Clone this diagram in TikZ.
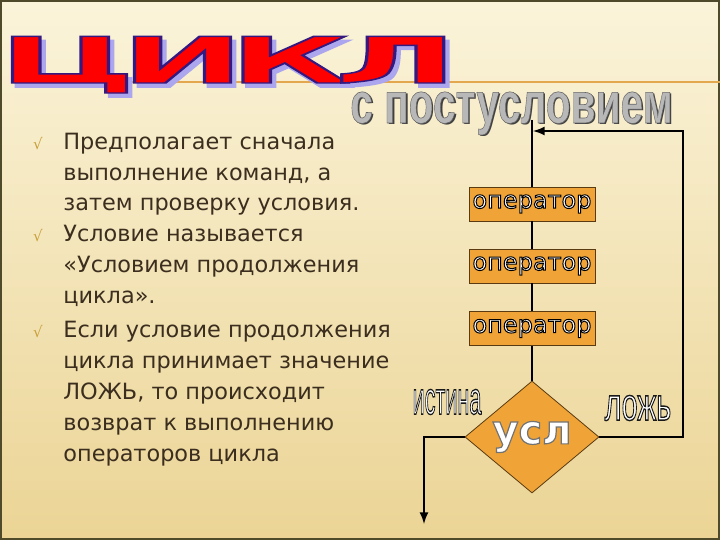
\documentclass[tikz,border=0pt]{standalone}
\usepackage{fontspec}
\setmainfont{DejaVu Sans}
\newfontfamily\narrowfont{Liberation Sans}
\newfontfamily\titlefont[LetterSpace=-10]{DejaVu Sans Bold}
\usetikzlibrary{shapes.geometric}

\definecolor{bgtop}{HTML}{FBF4DA}
\definecolor{bgbot}{HTML}{EBD495}
\definecolor{frame}{HTML}{4F4A2A}
\definecolor{rule}{HTML}{E3A84E}
\definecolor{boxorange}{HTML}{F0A437}
\definecolor{boxedge}{HTML}{5A3A10}
\definecolor{titleshadow}{HTML}{ABA6EE}
\definecolor{bodytext}{HTML}{3B2E1E}
\definecolor{mark}{HTML}{C9A13B}

\tikzset{
  flow/.style={line width=1pt},
  opbox/.style={draw=boxedge, fill=boxorange, line width=0.4pt,
    minimum width=63pt, minimum height=17pt, inner sep=0pt},
  cond/.style={diamond, aspect=1.2, draw=boxedge, fill=boxorange, line width=0.4pt,
    minimum width=67pt, minimum height=56pt, inner sep=0pt},
  body/.style={font=\fontsize{11.2}{12}\selectfont, text=bodytext, inner sep=0pt},
  bullet/.style={font=\fontsize{7.5}{9}\selectfont, text=mark, inner sep=0pt},
  answer/.style={font=\narrowfont\fontsize{23}{24}\selectfont, inner sep=0pt},
}
% filled text with a stroked edge: #1 edge width, #2 edge colour (rgb), #3 fill colour, #4 text
\newcommand{\edged}[4]{\textcolor{#3}{\special{pdf:literal direct q 2 Tr #1 w #2 RG}#4\special{pdf:literal direct Q}}}

\begin{document}
\begin{tikzpicture}[x=0.5pt,y=-0.5pt]
  \useasboundingbox (0,0) rectangle (720,540);
  % background and frame
  \shade[top color=bgtop, bottom color=bgbot] (0,0) rectangle (720,540);
  \draw[frame, line width=1pt] (1,1) rectangle (719,539);
  \draw[rule, line width=0.6pt] (118,82) -- (720,82);

  % title
  \node[inner sep=0pt, anchor=base] (titleshade) at (232,87)
    {\titlefont\fontsize{32}{33}\selectfont\scalebox{2.3}[1]{\edged{0.8}{0.67 0.65 0.93}{titleshadow}{ЦИКЛ}}};
  \node[inner sep=0pt, anchor=base] (title) at (228,83)
    {\titlefont\fontsize{32}{33}\selectfont\scalebox{2.3}[1]{\edged{0.7}{0.2 0.1 0.5}{red}{ЦИКЛ}}};
  \node[inner sep=0pt, anchor=base, text=black!75] (subshade) at (513.5,125)
    {\narrowfont\bfseries\fontsize{29}{30}\selectfont\scalebox{0.7}[1]{с постусловием}};
  \node[inner sep=0pt, anchor=base] (subtitle) at (511.5,123)
    {\narrowfont\bfseries\fontsize{29}{30}\selectfont\scalebox{0.7}[1]{\edged{0.3}{0.4 0.4 0.4}{black!28}{с постусловием}}};

  % text
  \foreach \y [count=\i] in {150,242,338}
    \node[bullet, anchor=base] (mark\i) at (38,\y) {√};
  \foreach \y/\txt [count=\i] in {150/Предполагает сначала, 181/{выполнение команд, а},
      211/затем проверку условия., 242/Условие называется, 273/«Условием продолжения,
      304/цикла»., 338/Если условие продолжения, 369/цикла принимает значение,
      400/{ЛОЖЬ, то происходит}, 431/возврат к выполнению, 462/операторов цикла}
    \node[body, anchor=base west] (ln\i) at (63,\y) {\txt};

  % flowchart
  \node[opbox] (op1) at (532,204) {\fontsize{12}{13}\selectfont\edged{0.5}{0 0 0}{white}{оператор}};
  \node[opbox] (op2) at (532,266) {\fontsize{12}{13}\selectfont\edged{0.5}{0 0 0}{white}{оператор}};
  \node[opbox] (op3) at (532,328.5) {\fontsize{12}{13}\selectfont\edged{0.5}{0 0 0}{white}{оператор}};
  \node[cond] (cond) at (532,437)
    {\fontsize{20}{21}\bfseries\edged{0.6}{0.45 0.45 0.45}{white}{усл}};

  \node[answer] (yes) at (447,402) {\scalebox{0.47}[1]{\edged{0.7}{0.1 0.1 0.1}{white}{истина}}};
  \node[answer] (no) at (638,408) {\scalebox{0.62}[1]{\edged{0.7}{0.1 0.1 0.1}{white}{ложь}}};

  \coordinate (start) at (532,120);
  \coordinate (back) at (683,131);
  \coordinate (join) at (533,131);
  \coordinate (exit) at (424,524);

  \draw[flow] (start) -- (op1);
  \draw[flow] (op1) -- (op2);
  \draw[flow] (op2) -- (op3);
  \draw[flow] (op3) -- (cond);
  \draw[flow,-latex] (cond.west) -| (exit);
  \draw[flow,-latex] (cond.east) -| (back) -- (join);
\end{tikzpicture}
\end{document}
